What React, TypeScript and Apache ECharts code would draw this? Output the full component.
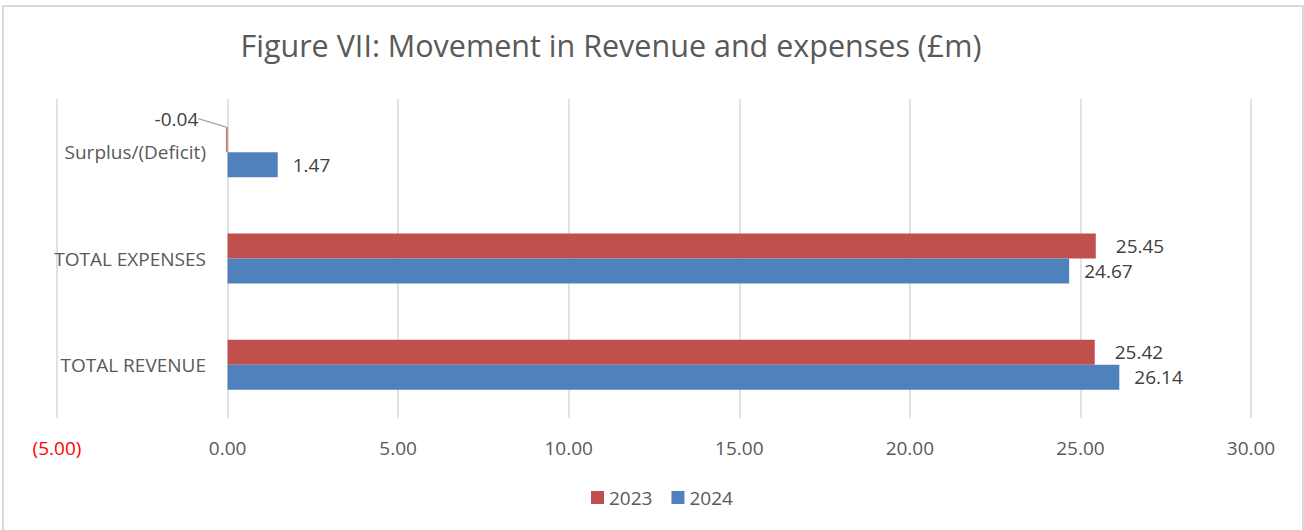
import React, { useEffect, useRef } from "react";
import * as echarts from "echarts";

const categories = ["TOTAL REVENUE", "TOTAL EXPENSES", "Surplus/(Deficit)"];
const values2023 = [25.42, 25.45, -0.04];
const values2024 = [26.14, 24.67, 1.47];
const seriesNames = ["2023", "2024"];
const xTicks = { min: -5, max: 30, interval: 5 };
const titleText = "Figure VII: Movement in Revenue and expenses (£m)";

const RED = "#C0504D";
const BLUE = "#4F81BD";
const FONT = "'Open Sans', 'Liberation Sans', sans-serif";
const FS = 19;

export default function App() {
  const ref = useRef<HTMLDivElement>(null);
  useEffect(() => {
    document.body.style.margin = "0";
    const chart = echarts.init(ref.current!, null, { renderer: "svg" });
    const fmt = (v: number) => (v < 0 ? `(${Math.abs(v).toFixed(2)})` : v.toFixed(2));
    const data2023 = values2023.map((v) =>
      v < 0
        ? {
            value: v,
            labelLine: { show: true, lineStyle: { color: "#a6a6a6", width: 1.2 } },
          }
        : { value: v }
    );
    chart.setOption({
      animation: false,
      backgroundColor: "#ffffff",
      textStyle: { fontFamily: FONT },
      title: {
        text: titleText,
        left: 606,
        textAlign: "center",
        top: 24,
        textStyle: { fontFamily: FONT, fontSize: 30.5, fontWeight: "normal", color: "#595959" },
      },
      graphic: [
        {
          type: "rect",
          shape: { x: 3, y: 6, width: 1300, height: 540 },
          style: { fill: "none", stroke: "#d9d9d9", lineWidth: 2 },
          silent: true,
        },
      ],
      legend: {
        data: seriesNames,
        left: 586,
        top: 483,
        itemWidth: 13,
        itemHeight: 13,
        itemGap: 19,
        icon: "rect",
        textStyle: { fontFamily: FONT, fontSize: FS, color: "#595959" },
      },
      grid: { left: 57, right: 53, top: 99, bottom: 112, containLabel: false, outerBoundsMode: "none" },
      xAxis: {
        type: "value",
        min: xTicks.min,
        max: xTicks.max,
        interval: xTicks.interval,
        axisLine: { show: false },
        axisTick: { show: false },
        splitLine: { show: true, lineStyle: { color: "#d9d9d9", width: 1.5 } },
        axisLabel: {
          margin: 20,
          fontFamily: FONT,
          fontSize: FS,
          formatter: (v: number) => fmt(v),
          color: (v: any) => (Number(v) < 0 ? "#FF0000" : "#595959"),
        },
      },
      yAxis: {
        type: "category",
        data: categories,
        axisLine: { show: false, onZero: false },
        axisTick: { show: false },
        splitLine: { show: false },
        axisLabel: { margin: -149, fontFamily: FONT, fontSize: FS, color: "#595959" },
      },
      series: [
        {
          name: seriesNames[0],
          type: "bar",
          data: data2023,
          barWidth: 25,
          barGap: "0%",
          itemStyle: { color: RED },
          label: {
            show: true,
            position: "right",
            distance: 20,
            fontFamily: FONT,
            fontSize: FS,
            color: "#404040",
            formatter: (p: any) => Number(p.value).toFixed(2),
          },
          labelLayout: (p: any) =>
            p.dataIndex === 2 ? { dx: -93, dy: -21 } : {},
        },
        {
          name: seriesNames[1],
          type: "bar",
          data: values2024,
          barWidth: 25,
          barGap: "0%",
          itemStyle: { color: BLUE },
          label: {
            show: true,
            position: "right",
            distance: 15,
            fontFamily: FONT,
            fontSize: FS,
            color: "#404040",
            formatter: (p: any) => Number(p.value).toFixed(2),
          },
        },
      ],
    });
    return () => chart.dispose();
  }, []);
  return <div ref={ref} style={{ width: 1304, height: 530 }} />;
}
